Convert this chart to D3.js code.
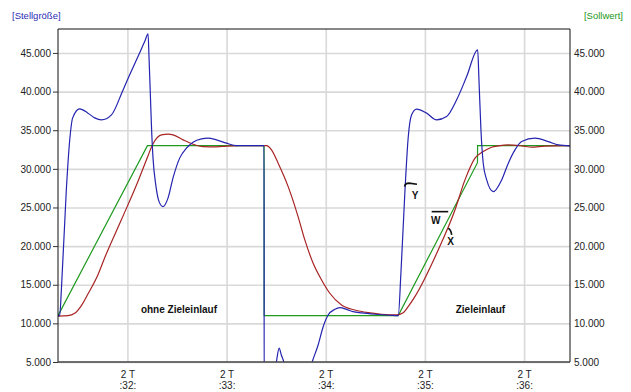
<!DOCTYPE html>
<html>
<head>
<meta charset="utf-8">
<script src="https://cdn.jsdelivr.net/npm/d3@7"></script>
<style>
  body { margin: 0; background: #fff; }
  svg text { font-family: "Liberation Sans", Arial, sans-serif; }
</style>
</head>
<body>
<script>
// Tick values (minutes of the day "2 T") and levels
var xTicks = [32, 33, 34, 35, 36];
var xDayLabel = "2 T";
var yTicks = [5000, 10000, 15000, 20000, 25000, 30000, 35000, 40000, 45000];

// W - Sollwert (green)
var sollTime  = [31.300, 32.202, 33.378, 33.379, 34.731, 35.530, 35.531, 36.463];
var sollValue = [11000, 33000, 33000, 11000, 11000, 30800, 33000, 33000];

// X - Istwert (red)
var istTime = [31.300, 31.401, 31.468, 31.536, 31.602, 31.703, 31.771, 31.939, 32.107, 32.208,
  32.252, 32.343, 32.410, 32.460, 32.561, 32.662, 32.763, 32.898, 32.999, 33.133,
  33.403, 33.453, 33.520, 33.621, 33.721, 33.789, 33.873, 33.958, 34.041, 34.159,
  34.294, 34.428, 34.563, 34.714, 34.781, 34.831, 34.899, 35.134, 35.303, 35.404,
  35.505, 35.588, 35.673, 35.740, 35.841, 35.976, 36.077, 36.211, 36.463];
var istValue = [10950, 11000, 11300, 12300, 13800, 16300, 18500, 23400, 28400, 31700,
  33100, 34400, 34490, 34400, 33750, 33190, 32880, 32840, 32950, 33000,
  33000, 32450, 30730, 27700, 23820, 20800, 17780, 15620, 13900, 12380,
  11730, 11380, 11180, 11090, 11380, 12160, 13460, 19500, 24680, 28570,
  31380, 32230, 32800, 32970, 33100, 32970, 32800, 32950, 33000];

// Y - Stellgroesse (blue)
var stellTime = [31.300, 31.317, 31.334, 31.384, 31.418, 31.448, 31.519, 31.599, 31.670, 31.738,
  31.839, 31.956, 32.023, 32.124, 32.175, 32.208, 32.218, 32.232, 32.242, 32.258,
  32.286, 32.319, 32.359, 32.410, 32.460, 32.528, 32.595, 32.662, 32.747, 32.813,
  32.898, 32.999, 33.100, 33.378, 33.379, 33.481, 33.507, 33.530, 33.552, 33.580,
  33.607, 33.799, 33.863, 33.923, 33.974, 34.024, 34.092, 34.142, 34.210, 34.276,
  34.361, 34.495, 34.647, 34.731, 34.758, 34.798, 34.831, 34.866, 34.916, 35.017,
  35.118, 35.219, 35.320, 35.421, 35.532, 35.545, 35.565, 35.588, 35.623, 35.689,
  35.774, 35.841, 35.908, 35.976, 36.110, 36.244, 36.345, 36.463];
var stellValue = [11000, 11000, 14300, 27300, 33700, 36600, 37760, 37240, 36600, 36340,
  36990, 40220, 42170, 45020, 46500, 47480, 44370, 39360, 35690, 31420,
  27920, 25760, 25110, 26240, 28830, 31420, 32670, 33450, 33880, 33970,
  33750, 33320, 33010, 33000, 0, 3000, 5400, 6800, 5900, 4800,
  2000, 2000, 5000, 7200, 9570, 11090, 11820, 12030, 11820, 11510,
  11350, 11180, 11050, 11000, 16500, 27000, 34000, 37000, 37730, 37210,
  36340, 36770, 38930, 41950, 45400, 41520, 35040, 30730, 28570, 27050,
  28570, 30730, 32450, 33530, 33970, 33530, 33100, 32970];

var svgWidth = 631;
var svgHeight = 392;
var margin = { top: 29, right: 61, bottom: 30, left: 58 };
var chartWidth = svgWidth - margin.left - margin.right;
var chartHeight = svgHeight - margin.top - margin.bottom;

var de = d3.formatLocale({ decimal: ",", thousands: ".", grouping: [3], currency: ["", " €"] });
var fmt = de.format(",.0f");

var svg = d3.select("body").append("svg")
  .attr("width", svgWidth)
  .attr("height", svgHeight);

svg.append("text").attr("x", 12).attr("y", 19)
  .attr("font-size", "9.5px").attr("fill", "#2b2bb5")
  .text("[Stellgröße]");
svg.append("text").attr("x", 623).attr("y", 19)
  .attr("text-anchor", "end")
  .attr("font-size", "9.5px").attr("fill", "#229922")
  .text("[Sollwert]");

var chartGroup = svg.append("g")
  .attr("transform", `translate(${margin.left}, ${margin.top})`);

var x = d3.scaleLinear().domain([31.3, 36.463]).range([0, chartWidth]);
var y = d3.scaleLinear().domain([5000, 48100]).range([chartHeight, 0]);

// grid
chartGroup.append("g")
  .call(d3.axisLeft(y).tickValues(yTicks).tickSize(-chartWidth).tickFormat(""))
  .call(g => g.select(".domain").remove())
  .selectAll("line").attr("stroke", "#d9d9d9").attr("stroke-width", 1.6);
chartGroup.append("g")
  .attr("transform", "translate(0," + chartHeight + ")")
  .call(d3.axisBottom(x).tickValues(xTicks).tickSize(-chartHeight).tickFormat(""))
  .call(g => g.select(".domain").remove())
  .selectAll("line").attr("stroke", "#d9d9d9").attr("stroke-width", 1.6);

// clip
chartGroup.append("clipPath").attr("id", "clip")
  .append("rect").attr("width", chartWidth).attr("height", chartHeight);

var lines = chartGroup.append("g").attr("clip-path", "url(#clip)");

var linearLine = d3.line()
  .x(d => x(d[0]))
  .y(d => y(d[1]));
var smoothLine = d3.line()
  .x(d => x(d[0]))
  .y(d => y(d[1]))
  .curve(d3.curveMonotoneX);

lines.append("path")
  .attr("d", linearLine(d3.zip(sollTime, sollValue)))
  .attr("fill", "none").attr("stroke", "#1f9a1f").attr("stroke-width", 1.2);
lines.append("path")
  .attr("d", smoothLine(d3.zip(istTime, istValue)))
  .attr("fill", "none").attr("stroke", "#a82424").attr("stroke-width", 1.2);
lines.append("path")
  .attr("d", smoothLine(d3.zip(stellTime, stellValue)))
  .attr("fill", "none").attr("stroke", "#2424b0").attr("stroke-width", 1.2);

// frame
chartGroup.append("line").attr("x1", 0).attr("x2", chartWidth).attr("y1", 0).attr("y2", 0)
  .attr("stroke", "#111");

// left axis
var leftAxis = chartGroup.append("g")
  .call(d3.axisLeft(y).tickValues(yTicks).tickFormat(fmt).tickSize(5).tickPadding(2));
leftAxis.select(".domain").attr("stroke", "#111").attr("d", "M0,0V" + chartHeight);
leftAxis.selectAll("text").attr("font-size", "10px").attr("fill", "#222");
leftAxis.selectAll("line").attr("stroke", "#333");

// right axis
var rightAxis = chartGroup.append("g")
  .attr("transform", "translate(" + chartWidth + ",0)")
  .call(d3.axisRight(y).tickValues(yTicks).tickFormat(fmt).tickSize(0).tickPadding(4));
rightAxis.select(".domain").attr("stroke", "#111").attr("d", "M0,0V" + chartHeight);
rightAxis.selectAll("text").attr("font-size", "10px").attr("fill", "#222");

// bottom axis
var bottomAxis = chartGroup.append("g")
  .attr("transform", "translate(0," + chartHeight + ")")
  .call(d3.axisBottom(x).tickValues(xTicks).tickSize(0).tickPadding(6).tickFormat(""));
bottomAxis.select(".domain").attr("stroke", "#444").attr("stroke-width", 1.5).attr("d", "M0,0H" + chartWidth);
bottomAxis.selectAll(".tick text").each(function(d) {
  var t = d3.select(this).attr("font-size", "10px").attr("fill", "#222").attr("dy", null).attr("y", 0);
  t.append("tspan").attr("x", 0).attr("y", 16).text(xDayLabel);
  t.append("tspan").attr("x", 0).attr("y", 27).text(":" + d + ":");
});

// annotations
var notes = chartGroup.append("g").attr("font-weight", "bold").attr("font-size", "10px").attr("fill", "#111");
notes.append("text").attr("x", x(32.52)).attr("y", y(11300)).attr("text-anchor", "middle").text("ohne Zieleinlauf");
notes.append("text").attr("x", x(35.56)).attr("y", y(11400)).attr("text-anchor", "middle").text("Zieleinlauf");

notes.append("text").attr("x", x(34.90)).attr("y", y(26100)).attr("text-anchor", "middle").text("Y");
notes.append("path").attr("fill", "none").attr("stroke", "#111").attr("stroke-width", 1.6)
  .attr("d", "M" + x(34.795) + "," + y(27700) + " Q" + x(34.80) + "," + y(28150) + " " + x(34.84) + "," + y(28150) +
    " L" + x(34.92) + "," + y(28000));
notes.append("text").attr("x", x(35.11)).attr("y", y(22870)).attr("text-anchor", "middle").text("W");
notes.append("line").attr("stroke", "#111").attr("stroke-width", 1.6)
  .attr("x1", x(35.068)).attr("x2", x(35.235)).attr("y1", y(24460)).attr("y2", y(24460));
notes.append("text").attr("x", x(35.26)).attr("y", y(20090)).attr("text-anchor", "middle").text("X");
notes.append("path").attr("fill", "none").attr("stroke", "#111").attr("stroke-width", 1.6)
  .attr("d", "M" + x(35.235) + "," + y(22310) + " Q" + x(35.262) + "," + y(22150) + " " + x(35.27) + "," + y(21450));
</script>
</body>
</html>
